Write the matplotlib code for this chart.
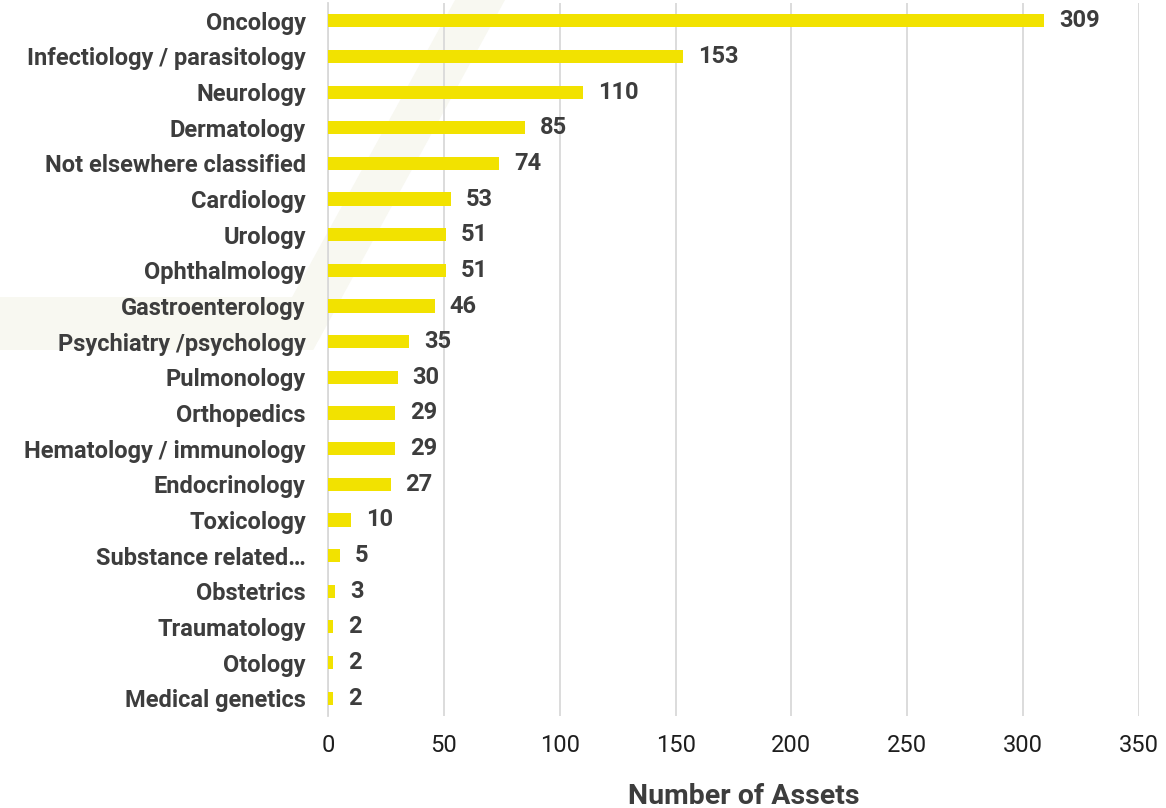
import matplotlib
matplotlib.use("Agg")
import matplotlib.pyplot as plt
from matplotlib.patches import Polygon

categories = ["Oncology", "Infectiology / parasitology", "Neurology", "Dermatology",
              "Not elsewhere classified", "Cardiology", "Urology", "Ophthalmology",
              "Gastroenterology", "Psychiatry /psychology", "Pulmonology", "Orthopedics",
              "Hematology / immunology", "Endocrinology", "Toxicology", "Substance related…",
              "Obstetrics", "Traumatology", "Otology", "Medical genetics"]
values = [309, 153, 110, 85, 74, 53, 51, 51, 46, 35, 30, 29, 29, 27, 10, 5, 3, 2, 2, 2]
xticks = [0, 50, 100, 150, 200, 250, 300, 350]

plt.rcParams['font.family'] = ['Roboto', 'DejaVu Sans']
W, H = 1166, 808
fig = plt.figure(figsize=(W/100, H/100), dpi=100)

def fp(x, y):
    return [x / W, 1 - y / H]

# faint watermark (diagonal stripe + horizontal band)
wm = "#f8f8f1"
fig.patches.append(Polygon([fp(455, 0), fp(505, 0), fp(313, 350), fp(263, 350)],
                           closed=True, transform=fig.transFigure, facecolor=wm,
                           edgecolor='none', zorder=-5))
fig.patches.append(Polygon([fp(0, 297), fp(342, 297), fp(313, 350), fp(0, 350)],
                           closed=True, transform=fig.transFigure, facecolor=wm,
                           edgecolor='none', zorder=-5))

ax = fig.add_axes([328/W, 1-716/H, (1139-328)/W, (716-3)/H])
ax.set_facecolor('none')
y = list(range(len(categories)))
ax.barh(y, values, height=0.37, color="#f2e200", zorder=3)
ax.set_ylim(len(categories)-0.5, -0.5)
ax.set_xlim(0, 350)
ax.set_xticks(xticks)
ax.set_xticklabels([str(t) for t in xticks], fontsize=17, color="#1e1e1e")
ax.set_yticks(y)
ax.set_yticklabels(categories, fontsize=17, fontweight='bold', color="#3d3d3d")
ax.tick_params(axis='both', length=0)
ax.tick_params(axis='x', pad=13)
ax.tick_params(axis='y', pad=16)
ax.grid(axis='x', color="#d9d9d9", linewidth=1.3, zorder=0)
for s in ['top', 'right', 'bottom']:
    ax.spines[s].set_visible(False)
ax.spines['left'].set_color("#d9d9d9")
ax.spines['left'].set_linewidth(1.3)
for yi, v in zip(y, values):
    ax.text(v + 6.5, yi, str(v), va='center', ha='left', fontsize=17,
            fontweight='bold', color="#3d3d3d", zorder=4)
fig.text(744/W, 1-796/H, "Number of Assets", ha='center', va='center',
         fontsize=20.5, fontweight='bold', color="#3d3d3d")

fig.savefig("out.png", dpi=100)
